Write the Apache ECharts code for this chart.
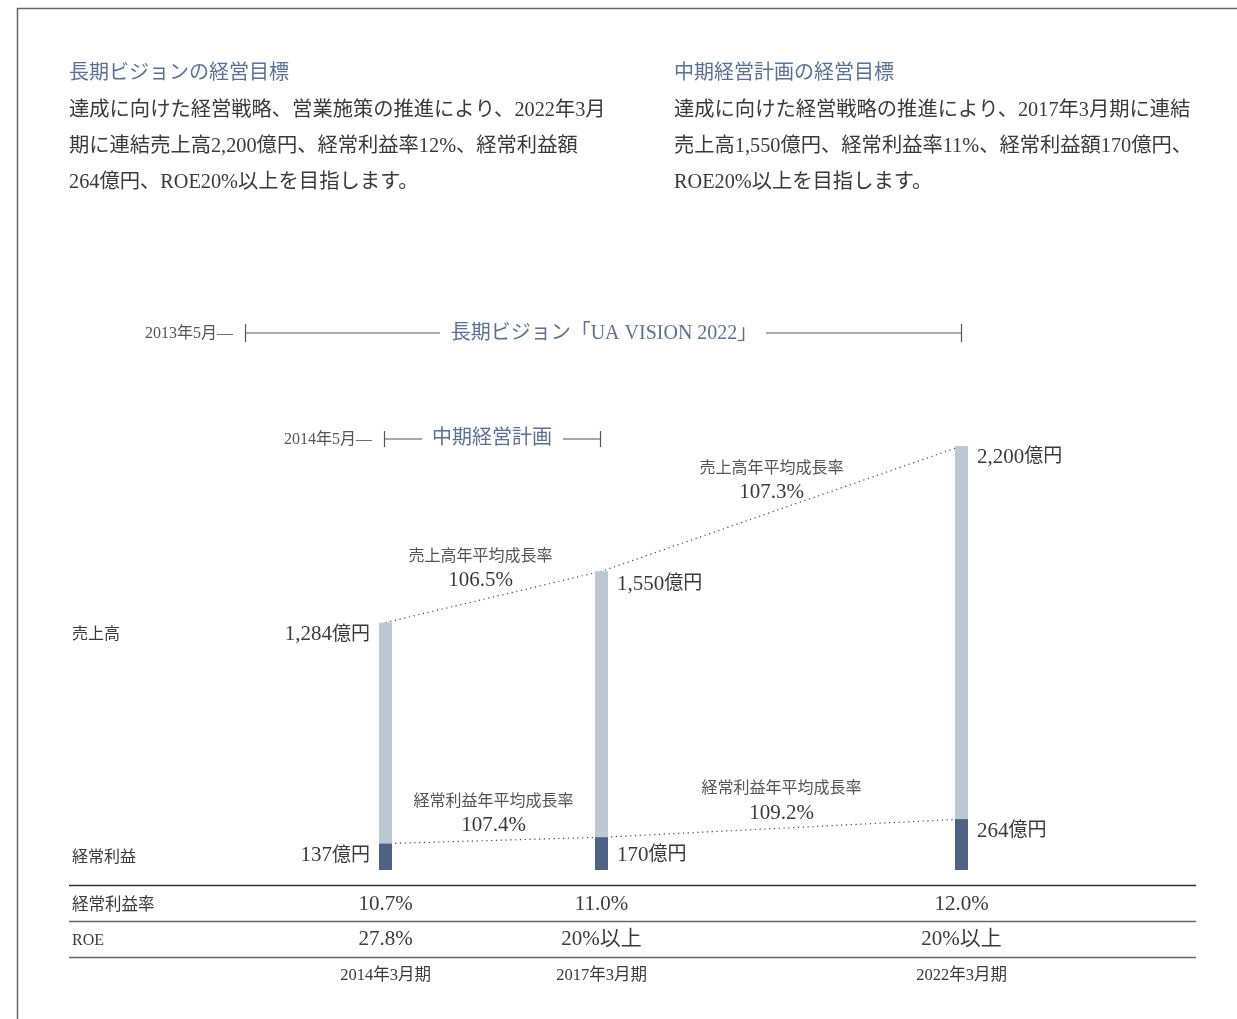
<!DOCTYPE html>
<html>
<head>
<meta charset="utf-8">
<script src="https://cdn.jsdelivr.net/npm/echarts@6/dist/echarts.min.js"></script>
<style>
  html, body { margin: 0; padding: 0; background: #fff; }
  #chart { width: 1237px; height: 1019px; }
</style>
</head>
<body>
<div id="chart"></div>
<script>
// Fiscal periods (year of the March close) and their labels
const periods = [2014, 2017, 2022];
const periodLabels = ['2014年3月期', '2017年3月期', '2022年3月期'];

// Consolidated net sales and ordinary profit (億円)
const sales = [1284, 1550, 2200];
const ordinaryProfit = [137, 170, 264];

// Compound annual growth between consecutive periods
const salesGrowth = ['106.5%', '107.3%'];
const profitGrowth = ['107.4%', '109.2%'];

// Table rows under the bars
const profitMargin = ['10.7%', '11.0%', '12.0%'];
const roe = ['27.8%', '20%以上', '20%以上'];

const FONT = "'Liberation Serif', 'Noto Sans CJK JP'";
const INK = '#3a3a3a';
const GREY = '#555555';
const ACCENT = '#5b7193';
const LIGHT_BAR = '#bdc9d2';
const DARK_BAR = '#4e6384';

// Label placement around each bar: left of the first bar, right of the others
const salesLabelPlace = [
  { pos: [-9, 12], align: 'right' },
  { pos: [22, 13], align: 'left' },
  { pos: [22, 11], align: 'left' }
];
const profitLabelPlace = [
  { pos: [-9, 12], align: 'right' },
  { pos: [22, 18], align: 'left' },
  { pos: [22, 12], align: 'left' }
];

const fmt = v => v.toLocaleString('en-US');
const amountRich = {
  n: { fontFamily: FONT, fontSize: 21, color: INK },
  u: { fontFamily: FONT, fontSize: 19, color: INK }
};

function barData(values, places) {
  return values.map((v, i) => ({
    value: [periods[i], v],
    label: {
      show: true,
      position: places[i].pos,
      align: places[i].align,
      verticalAlign: 'middle',
      formatter: '{n|' + fmt(v) + '}{u|億円}',
      rich: amountRich
    }
  }));
}

const chart = echarts.init(document.getElementById('chart'), null, { renderer: 'canvas' });

chart.setOption({
  backgroundColor: '#ffffff',
  animation: false,
  grid: { left: 97.5, right: 59.5, top: 388.2, bottom: 149, containLabel: false },
  xAxis: {
    type: 'value', min: 2010, max: 2025,
    show: false, splitLine: { show: false }
  },
  yAxis: {
    type: 'value', min: 0, max: 2500,
    show: false, splitLine: { show: false }
  },
  series: [
    {
      name: '売上高推移',
      type: 'line',
      data: periods.map((p, i) => [p, sales[i]]),
      symbol: 'none',
      z: 1,
      lineStyle: { color: '#444', width: 1.2, type: [1.2, 3.6] }
    },
    {
      name: '経常利益推移',
      type: 'line',
      data: periods.map((p, i) => [p, ordinaryProfit[i]]),
      symbol: 'none',
      z: 1,
      lineStyle: { color: '#444', width: 1.2, type: [1.2, 3.6] }
    },
    {
      name: '売上高',
      type: 'bar',
      barWidth: 13,
      barGap: '-100%',
      z: 3,
      itemStyle: { color: LIGHT_BAR },
      data: barData(sales, salesLabelPlace)
    },
    {
      name: '経常利益',
      type: 'bar',
      barWidth: 13,
      barGap: '-100%',
      z: 4,
      itemStyle: { color: DARK_BAR },
      data: barData(ordinaryProfit, profitLabelPlace)
    }
  ]
});

// Annotations, table and intro text laid out against the chart's own scales
const px = (x, y) => chart.convertToPixel({ gridIndex: 0 }, [x, y]);
const g = [];

function text(x, y, str, opt) {
  g.push({
    type: 'text', x: x, y: y, silent: true,
    style: Object.assign({
      text: str, fontFamily: FONT, fontSize: 16, fill: INK,
      align: 'left', verticalAlign: 'middle'
    }, opt || {})
  });
}
function line(x1, y1, x2, y2, color, w) {
  g.push({
    type: 'line', silent: true,
    shape: { x1: x1, y1: y1, x2: x2, y2: y2 },
    style: { stroke: color || '#444', lineWidth: w || 1 }
  });
}

// Frame
line(17, 8.5, 1237, 8.5, '#666', 1.5);
line(17.5, 8, 17.5, 1019, '#666', 1.5);

// Intro text, two columns
text(69, 74, '長期ビジョンの経営目標', { fontSize: 20, fill: ACCENT });
text(69, 111, '達成に向けた経営戦略、営業施策の推進により、2022年3月', { fontSize: 20.3 });
text(69, 147, '期に連結売上高2,200億円、経常利益率12%、経常利益額', { fontSize: 20.3 });
text(69, 183, '264億円、ROE20%以上を目指します。', { fontSize: 20.3 });

text(674, 74, '中期経営計画の経営目標', { fontSize: 20, fill: ACCENT });
text(674, 111, '達成に向けた経営戦略の推進により、2017年3月期に連結', { fontSize: 20.3 });
text(674, 147, '売上高1,550億円、経常利益率11%、経常利益額170億円、', { fontSize: 20.3 });
text(674, 183, 'ROE20%以上を目指します。', { fontSize: 20.3 });

// Plan period brackets
text(233, 334, '2013年5月—', { fontSize: 16, fill: GREY, align: 'right' });
line(245.5, 324, 245.5, 342, '#555', 1.2);
line(245, 333, 440, 333, '#555', 1.2);
text(604, 334, '長期ビジョン「UA VISION 2022」', { fontSize: 20, fill: ACCENT, align: 'center' });
line(766, 333, 961, 333, '#555', 1.2);
line(961.5, 324, 961.5, 342, '#555', 1.2);

text(372, 440, '2014年5月—', { fontSize: 16, fill: GREY, align: 'right' });
line(384.5, 431, 384.5, 447, '#555', 1.2);
line(384, 439, 422, 439, '#555', 1.2);
text(492, 439, '中期経営計画', { fontSize: 20, fill: ACCENT, align: 'center' });
line(563, 439, 600, 439, '#555', 1.2);
line(600.5, 431, 600.5, 447, '#555', 1.2);

// Row captions beside the bars
text(72, 635, '売上高', { fontSize: 16 });
text(72, 858, '経常利益', { fontSize: 16 });

// Growth-rate captions between periods
for (let i = 0; i < periods.length - 1; i++) {
  const xm = (px(periods[i], 0)[0] + px(periods[i + 1], 0)[0]) / 2;
  const ys = (px(0, sales[i])[1] + px(0, sales[i + 1])[1]) / 2;
  const yp = (px(0, ordinaryProfit[i])[1] + px(0, ordinaryProfit[i + 1])[1]) / 2;
  const sx = xm - (i === 0 ? 13 : 10);
  text(sx, ys - 40, '売上高年平均成長率', { fontSize: 16, fill: GREY, align: 'center' });
  text(sx, ys - 16, salesGrowth[i], { fontSize: 21, fill: INK, align: 'center' });
  text(xm, yp - 39, '経常利益年平均成長率', { fontSize: 16, fill: GREY, align: 'center' });
  text(xm, yp - 15, profitGrowth[i], { fontSize: 21, fill: INK, align: 'center' });
}

// Table of ratios
line(69, 885.5, 1196, 885.5, '#333', 1.3);
line(69, 921.5, 1196, 921.5, '#666', 1.3);
line(69, 957.5, 1196, 957.5, '#666', 1.3);
text(72, 906, '経常利益率', { fontSize: 16.5 });
text(72, 941, 'ROE', { fontSize: 16 });
periods.forEach((p, i) => {
  const x = px(p, 0)[0];
  text(x, 904, profitMargin[i], { fontSize: 21, align: 'center' });
  text(x, 939, roe[i], { fontSize: 21, align: 'center' });
  text(x, 976, periodLabels[i], { fontSize: 16.5, align: 'center' });
});

chart.setOption({ graphic: { elements: g } });
</script>
</body>
</html>
